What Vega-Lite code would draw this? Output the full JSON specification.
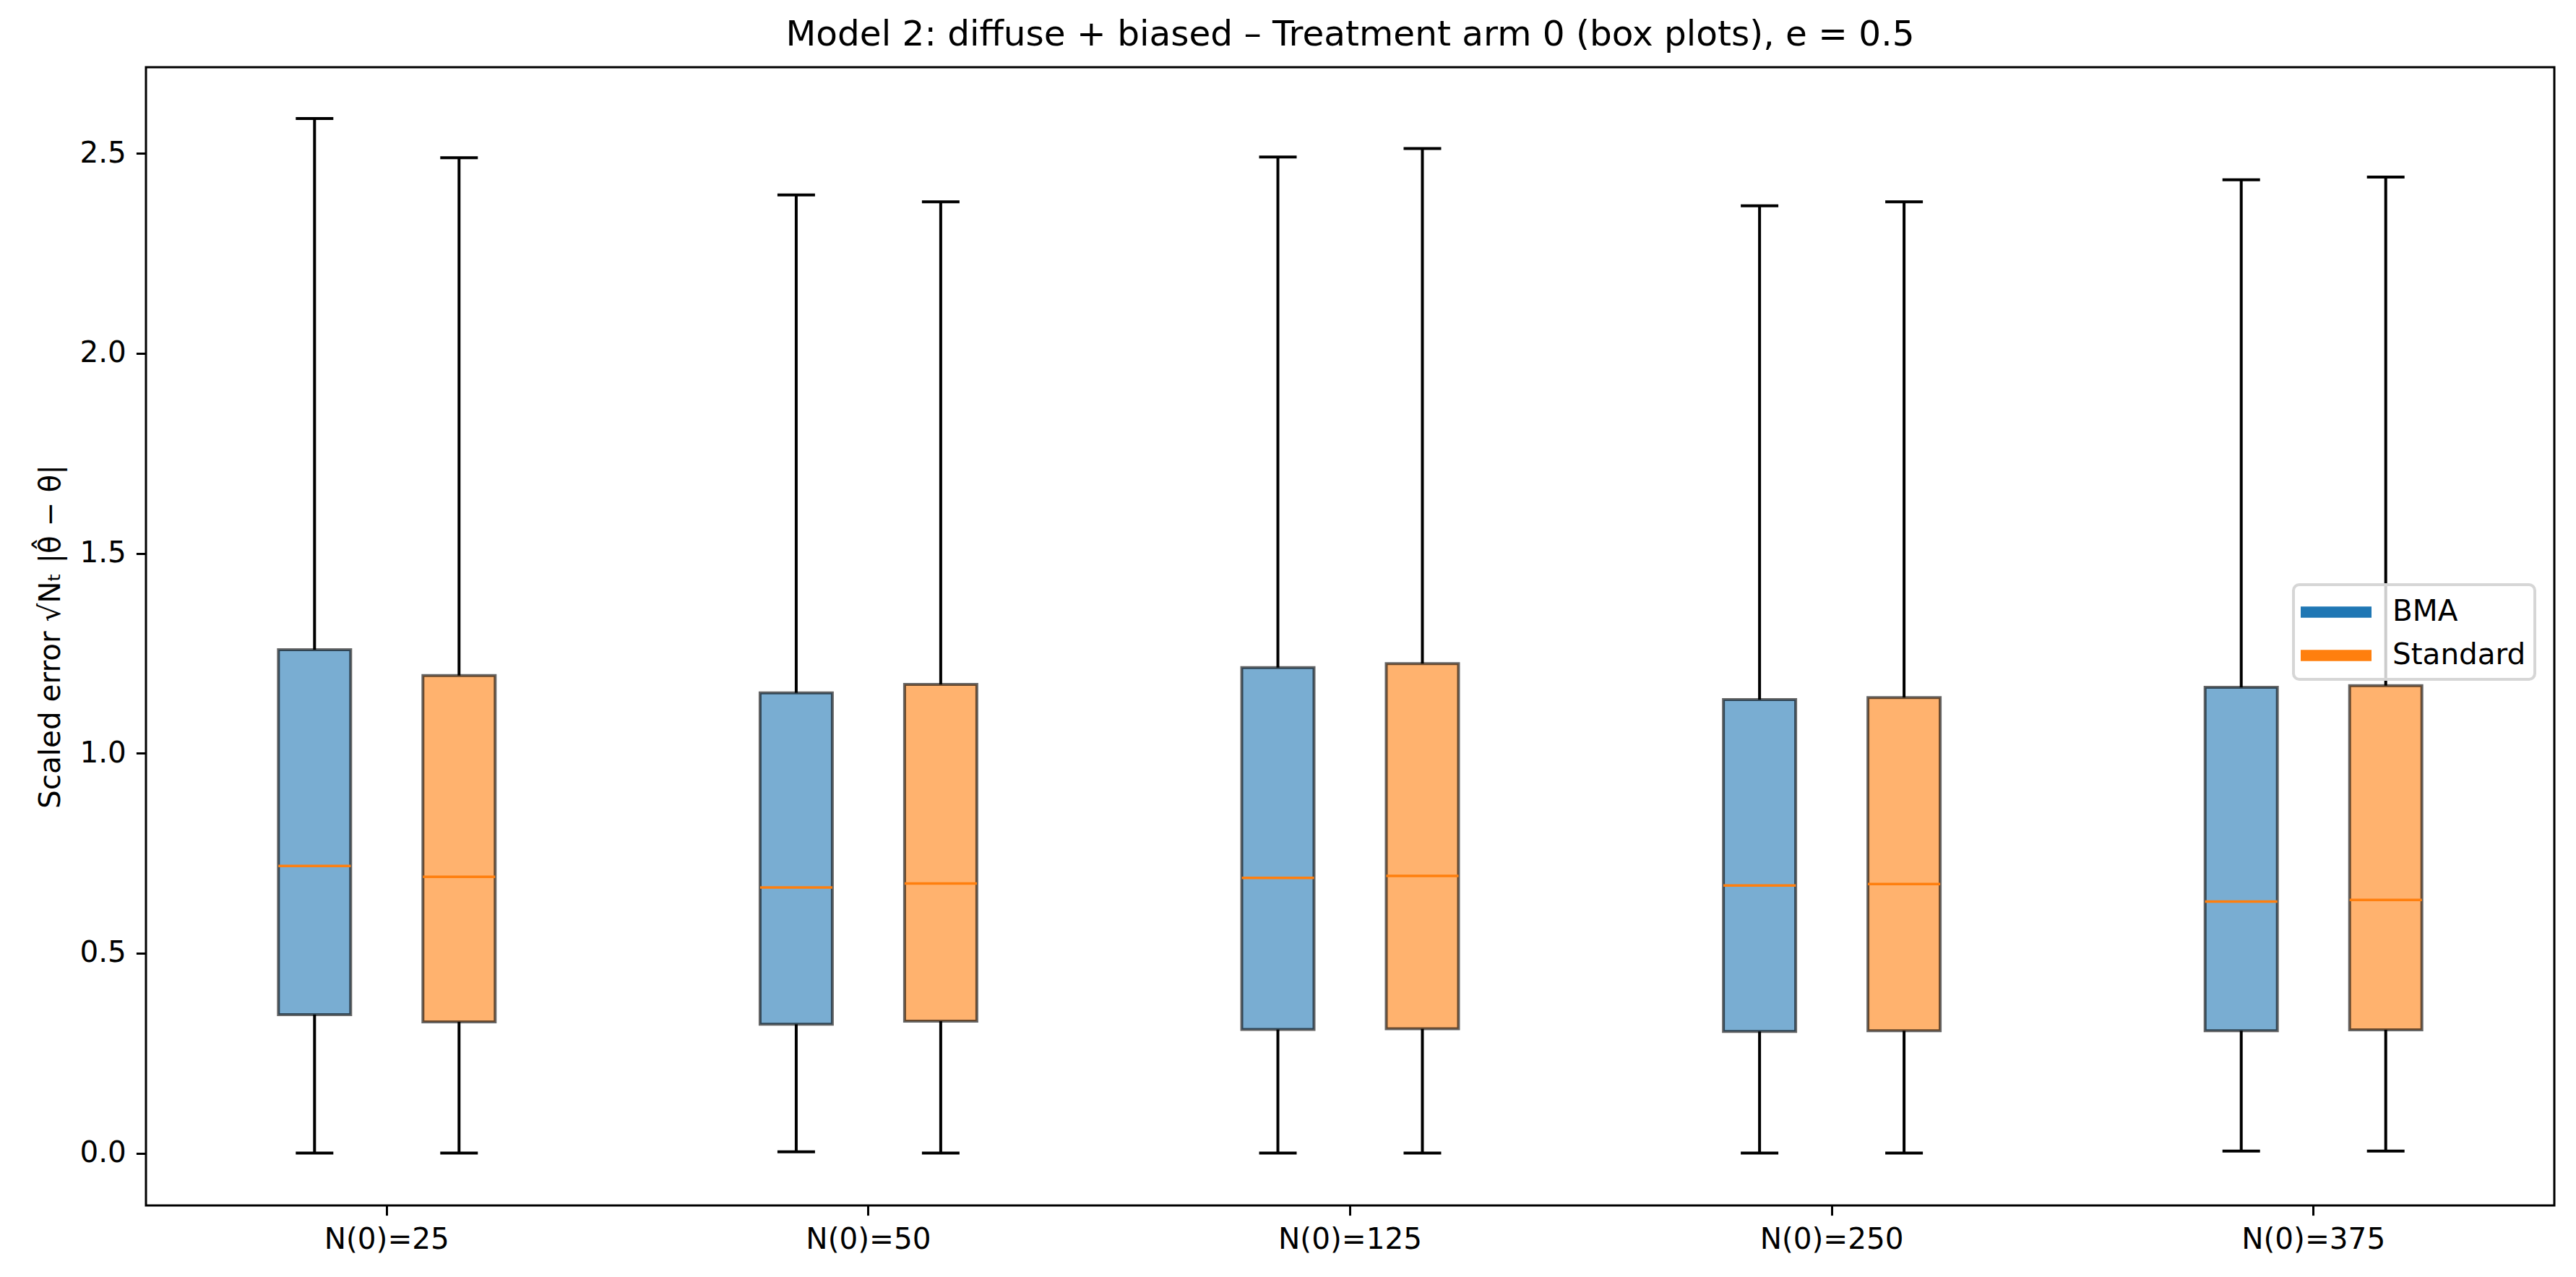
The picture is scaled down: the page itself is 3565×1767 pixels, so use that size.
{
  "$schema": "https://vega.github.io/schema/vega-lite/v6.json",
  "width": 3333,
  "height": 1575,
  "autosize": {"type": "none"},
  "padding": {"left": 202, "top": 93, "right": 30, "bottom": 99},
  "background": "white",
  "title": {
    "text": "Model 2: diffuse + biased – Treatment arm 0 (box plots), e = 0.5",
    "fontSize": 48.5,
    "font": "DejaVu Sans",
    "fontWeight": "normal",
    "color": "black",
    "anchor": "middle",
    "offset": 20
  },
  "config": {
    "font": "DejaVu Sans",
    "view": {"stroke": "black", "strokeWidth": 3},
    "axis": {
      "domain": false,
      "grid": false,
      "tickColor": "black",
      "tickWidth": 3,
      "tickSize": 13.6,
      "labelFontSize": 40.5,
      "labelColor": "black",
      "labelFont": "DejaVu Sans",
      "labelPadding": 14,
      "labelLimit": 0,
      "labelOverlap": false,
      "titleFontSize": 40.5,
      "titleFontWeight": "normal",
      "titleColor": "black",
      "titleFont": "DejaVu Sans"
    },
    "legend": {
      "labelFontSize": 40.5,
      "labelColor": "black",
      "labelFont": "DejaVu Sans",
      "labelLimit": 0
    }
  },
  "data": {
    "values": [
      {"group": "N(0)=25", "method": "BMA", "min": 0.0, "q1": 0.346, "median": 0.718, "q3": 1.259, "max": 2.587},
      {"group": "N(0)=25", "method": "Standard", "min": 0.0, "q1": 0.328, "median": 0.691, "q3": 1.194, "max": 2.489},
      {"group": "N(0)=50", "method": "BMA", "min": 0.003, "q1": 0.322, "median": 0.664, "q3": 1.151, "max": 2.396},
      {"group": "N(0)=50", "method": "Standard", "min": 0.0, "q1": 0.330, "median": 0.674, "q3": 1.172, "max": 2.379},
      {"group": "N(0)=125", "method": "BMA", "min": 0.0, "q1": 0.309, "median": 0.688, "q3": 1.214, "max": 2.491},
      {"group": "N(0)=125", "method": "Standard", "min": 0.0, "q1": 0.311, "median": 0.693, "q3": 1.224, "max": 2.512},
      {"group": "N(0)=250", "method": "BMA", "min": 0.0, "q1": 0.304, "median": 0.669, "q3": 1.134, "max": 2.369},
      {"group": "N(0)=250", "method": "Standard", "min": 0.0, "q1": 0.306, "median": 0.673, "q3": 1.139, "max": 2.379},
      {"group": "N(0)=375", "method": "BMA", "min": 0.005, "q1": 0.306, "median": 0.629, "q3": 1.165, "max": 2.434},
      {"group": "N(0)=375", "method": "Standard", "min": 0.005, "q1": 0.308, "median": 0.633, "q3": 1.169, "max": 2.441}
    ]
  },
  "encoding": {
    "x": {
      "field": "group",
      "type": "nominal",
      "sort": ["N(0)=25", "N(0)=50", "N(0)=125", "N(0)=250", "N(0)=375"],
      "scale": {"paddingInner": 0, "paddingOuter": 0},
      "axis": {"title": null, "labelAngle": 0}
    },
    "xOffset": {
      "field": "method",
      "type": "nominal",
      "sort": ["BMA", "Standard"],
      "scale": {"paddingInner": 0.5, "paddingOuter": 0.9167}
    }
  },
  "layer": [
    {
      "mark": {"type": "rule", "color": "black", "strokeWidth": 4},
      "encoding": {
        "y": {
          "field": "min",
          "type": "quantitative",
          "scale": {"domain": [-0.131, 2.7155], "nice": false, "zero": false},
          "axis": {
            "values": [0, 0.5, 1, 1.5, 2, 2.5],
            "format": ".1f",
            "title": "Scaled error √Nₜ |θ̂ − θ|",
            "titlePadding": 18
          }
        },
        "y2": {"field": "q1"}
      }
    },
    {
      "mark": {"type": "rule", "color": "black", "strokeWidth": 4},
      "encoding": {
        "y": {"field": "q3", "type": "quantitative"},
        "y2": {"field": "max"}
      }
    },
    {
      "mark": {"type": "bar", "fillOpacity": 0.6, "strokeWidth": 0},
      "encoding": {
        "y": {"field": "q1", "type": "quantitative"},
        "y2": {"field": "q3"},
        "color": {
          "field": "method",
          "type": "nominal",
          "scale": {"domain": ["BMA", "Standard"], "range": ["#1f77b4", "#ff7f0e"]},
          "legend": {
            "title": null,
            "orient": "none",
            "legendX": 2972,
            "legendY": 716,
            "direction": "vertical",
            "symbolType": "M-1.885,-0.3H1.885V0.3H-1.885Z",
            "symbolSize": 2704,
            "symbolStrokeWidth": 0,
            "symbolOpacity": 1,
            "symbolOffset": 21,
            "labelOffset": 52,
            "rowPadding": 13,
            "padding": 12,
            "fillColor": "rgba(255,255,255,0.8)",
            "strokeColor": "#d6d6d6",
            "cornerRadius": 8,
            "encode": {
              "symbols": {
                "update": {
                  "fillOpacity": {"value": 1},
                  "opacity": {"value": 1},
                  "strokeWidth": {"value": 0}
                }
              },
              "legend": {
                "update": {"strokeWidth": {"value": 4}}
              }
            }
          }
        }
      }
    },
    {
      "mark": {"type": "bar", "fillOpacity": 0, "stroke": "black", "strokeOpacity": 0.6, "strokeWidth": 4},
      "encoding": {
        "y": {"field": "q1", "type": "quantitative"},
        "y2": {"field": "q3"}
      }
    },
    {
      "mark": {"type": "tick", "orient": "horizontal", "color": "#ff7f0e", "size": 100, "thickness": 3.5, "opacity": 1},
      "encoding": {"y": {"field": "median", "type": "quantitative"}}
    },
    {
      "mark": {"type": "tick", "orient": "horizontal", "color": "black", "size": 52, "thickness": 4, "opacity": 1},
      "encoding": {"y": {"field": "min", "type": "quantitative"}}
    },
    {
      "mark": {"type": "tick", "orient": "horizontal", "color": "black", "size": 52, "thickness": 4, "opacity": 1},
      "encoding": {"y": {"field": "max", "type": "quantitative"}}
    }
  ]
}
